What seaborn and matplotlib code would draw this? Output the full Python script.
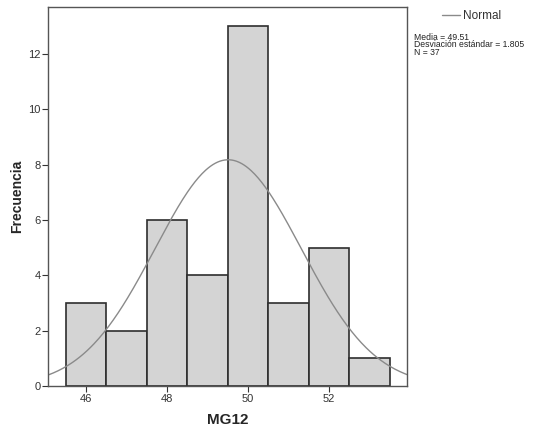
import numpy as np
import pandas as pd
import matplotlib
matplotlib.use("Agg")
import matplotlib.pyplot as plt
import seaborn as sns

# Data
bin_values = [46, 47, 48, 49, 50, 51, 52, 53]
counts = [3, 2, 6, 4, 13, 3, 5, 1]
mean_val = 49.51
sd_val = 1.805
n_val = 37
y_ticks = [0, 2, 4, 6, 8, 10, 12]
x_ticks = [46, 48, 50, 52]

sns.set_theme(style="white")
plt.rcParams['font.family'] = ['Liberation Sans', 'DejaVu Sans']

df = pd.DataFrame({"MG12": np.repeat(bin_values, counts)})

fig = plt.figure(figsize=(5.43, 4.34), dpi=100)
ax = fig.add_axes([0.0893, 0.1106, 0.6602, 0.8733])

sns.histplot(data=df, x="MG12", discrete=True, ax=ax, color="#d4d4d4",
             edgecolor="#2e2e2e", linewidth=1.2, alpha=1.0)

xs = np.linspace(45.08, 53.92, 300)
pdf = n_val * 1.0 / (sd_val * np.sqrt(2 * np.pi)) * np.exp(-0.5 * ((xs - mean_val) / sd_val) ** 2)
ax.plot(xs, pdf, color="#8a8a8a", linewidth=1.0)

ax.set_xlim(45.08, 53.92)
ax.set_ylim(0, 13.7)
ax.set_xticks(x_ticks)
ax.set_yticks(y_ticks)
ax.tick_params(axis='both', which='both', direction='out', length=4, width=0.8,
               labelsize=8, colors="#333333", bottom=True, left=True, pad=1.5)
for s in ax.spines.values():
    s.set_color("#555555")
    s.set_linewidth(1.0)
ax.set_xlabel("MG12", fontsize=11, fontweight='bold', labelpad=7)
ax.set_ylabel("Frecuencia", fontsize=10, fontweight='bold', labelpad=3)

# Legend-like annotation at top right
fig.add_artist(plt.Line2D([0.814, 0.848], [0.9645, 0.9645], color="#8a8a8a", linewidth=1.0))
fig.text(0.852, 0.964, "Normal", fontsize=8.5, va='center', ha='left', color="#333333")
fig.text(0.762, 0.925,
         f"Media = {mean_val}\nDesviación estándar = {sd_val}\nN = {n_val}",
         fontsize=6.2, va='top', ha='left', linespacing=0.8, color="#222222")

fig.savefig("out.png", dpi=100)
